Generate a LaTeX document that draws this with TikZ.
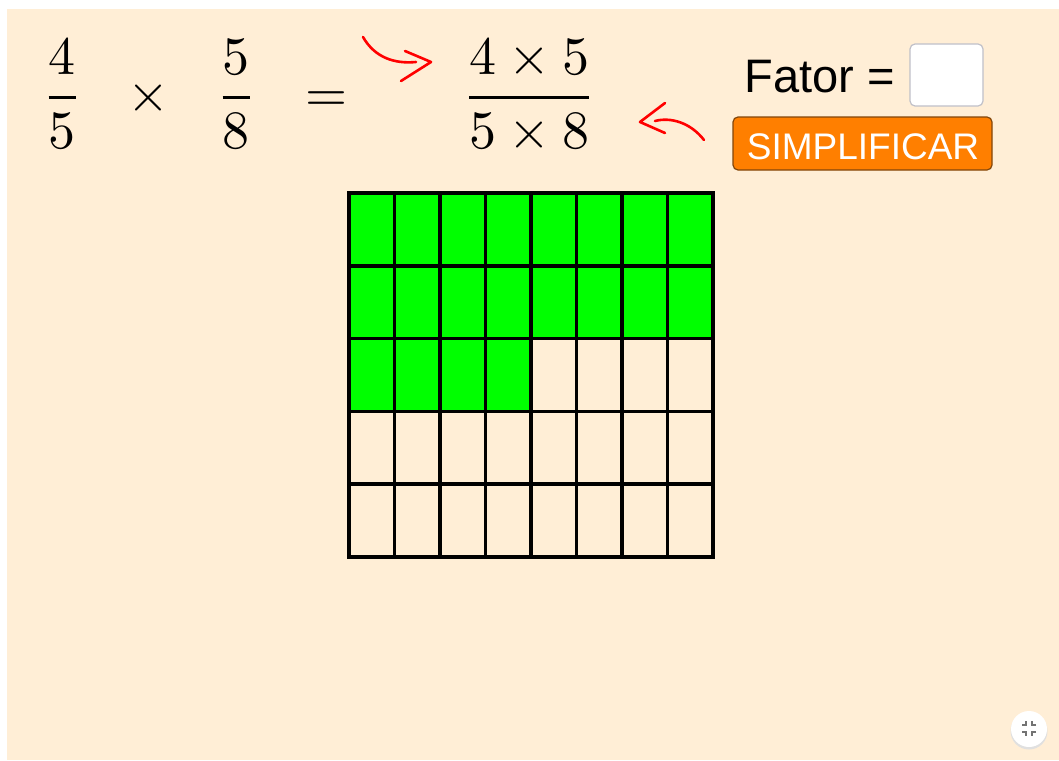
\documentclass[tikz,border=0pt]{standalone}
\usepackage{fontspec}
\newfontfamily\arial{Liberation Sans}
\definecolor{bgcream}{RGB}{255,238,214}
\definecolor{cellgreen}{RGB}{0,255,0}
\definecolor{btnorange}{RGB}{255,127,0}
\definecolor{btnborder}{RGB}{130,70,10}
\definecolor{boxborder}{RGB}{192,192,200}
\definecolor{arrred}{RGB}{255,0,0}
\tikzset{
  mathbig/.style={inner sep=0pt, anchor=base, scale=5.4, font=\fontsize{10}{12}\selectfont},
  uitext/.style={inner sep=0pt, anchor=base, font=\arial\fontsize{47}{52}\selectfont},
  btntext/.style={inner sep=0pt, anchor=base, text=white, font=\arial\fontsize{37}{40}\selectfont},
  redarrow/.style={draw=arrred, line width=2.6pt, line cap=round, line join=round},
  gridline/.style={line width=3.6pt, line cap=rect},
}
\begin{document}
\begin{tikzpicture}[x=1pt,y=-1pt]
\useasboundingbox (0,0) rectangle (1059,760);
\fill[white] (0,0) rectangle (1059,760);
\fill[bgcream] (7,9) rectangle (1059,760);

% formula
\node[mathbig] (f1) at (62,111) {$\displaystyle\frac{4}{5}$};
\node[mathbig] (t1) at (148,111) {$\times$};
\node[mathbig] (f2) at (236,111) {$\displaystyle\frac{5}{8}$};
\node[mathbig] (eq) at (326,111) {$=$};
\node[mathbig] (f3) at (529,111) {$\displaystyle\frac{4\times5}{5\times8}$};

% red arrows
\coordinate (a1s) at (363,37);
\coordinate (a1e) at (416,62);
\coordinate (a1t) at (431,62);
\coordinate (a1u) at (405,51);
\coordinate (a1d) at (401,81);
\draw[redarrow] (a1s) .. controls (375,58) and (395,64) .. (a1e);
\draw[redarrow] (a1u) -- (a1t) -- (a1d);
\coordinate (a2s) at (704,140);
\coordinate (a2e) at (655,121);
\coordinate (a2t) at (640,122);
\coordinate (a2u) at (665,103);
\coordinate (a2d) at (665,133);
\draw[redarrow] (a2s) .. controls (690,122) and (670,117) .. (a2e);
\draw[redarrow] (a2u) -- (a2t) -- (a2d);

% Fator input
\node[uitext] (fator) at (820,92) {Fator =};
\draw[boxborder, fill=white, line width=1.2pt, rounded corners=5pt] (910,44) rectangle (983,106);
\node[inner sep=0pt] (inbox) at (946.5,75) {};

% button
\draw[btnborder, fill=btnorange, line width=1.2pt, rounded corners=5pt] (733,117) rectangle (992,170);
\node[btntext] (simp) at (863,159) {SIMPLIFICAR};

% grid
\foreach \c in {0,...,7} {
  \foreach \r in {0,1} {
    \fill[cellgreen] (349+45.5*\c,193+72.8*\r) rectangle ++(45.5,72.8);
  }
}
\foreach \c in {0,...,3} {
  \fill[cellgreen] (349+45.5*\c,193+72.8*2) rectangle ++(45.5,72.8);
}
\foreach \c in {0,...,8} {
  \draw[gridline] (349+45.5*\c,193) -- (349+45.5*\c,557);
}
\foreach \r in {0,...,5} {
  \draw[gridline] (349,193+72.8*\r) -- (713,193+72.8*\r);
}

% fullscreen button
\fill[black!12] (1029,731) circle (18.5);
\fill[white] (1029,729) circle (18);
\node[inner sep=0pt] (fs) at (1029,729) {};
\begin{scope}[draw=black!55, line width=1.6pt]
\draw (1022,725) -- (1026,725) -- (1026,721);
\draw (1036,725) -- (1032,725) -- (1032,721);
\draw (1022,732) -- (1026,732) -- (1026,736);
\draw (1036,732) -- (1032,732) -- (1032,736);
\end{scope}
\end{tikzpicture}
\end{document}
